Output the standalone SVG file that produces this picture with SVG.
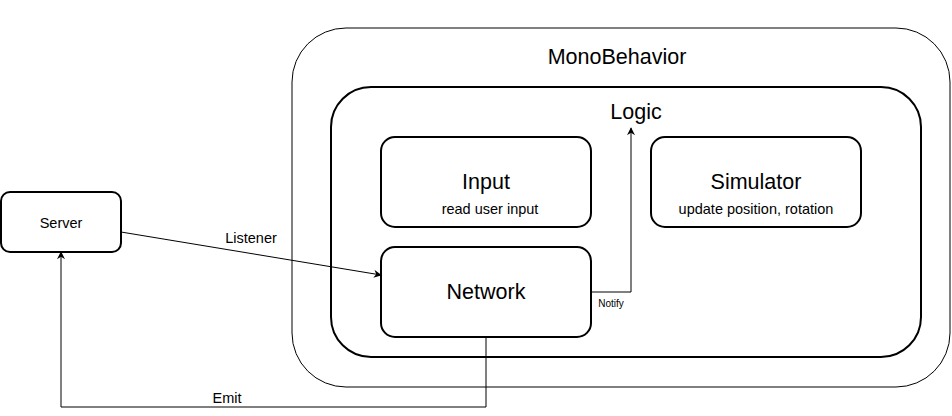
<svg xmlns="http://www.w3.org/2000/svg" width="952" height="416" viewBox="0 0 952 416">
<defs>
<style>
text{font-family:"Liberation Sans",Arial,sans-serif;fill:#000;text-anchor:middle}
.box{fill:#fff;stroke:#000;stroke-width:2}
.line{fill:none;stroke:#000;stroke-width:1}
.big{font-size:21.5px}
.mid{font-size:14.5px}
.sm{font-size:10px}
</style>
<marker id="arr" viewBox="0 0 10 10" refX="9" refY="5" markerWidth="8" markerHeight="8" markerUnits="userSpaceOnUse" orient="auto">
<path d="M0,0 L10,5 L0,10 L3,5 Z" fill="#000"/>
</marker>
</defs>
<rect width="952" height="416" fill="#fff"/>
<g id="monobehavior">
<rect x="292" y="28" width="658" height="359" rx="54" ry="54" fill="#fff" stroke="#000" stroke-width="1"/>
<text class="big" x="617" y="64">MonoBehavior</text>
</g>
<g id="logic">
<rect x="331" y="87" width="590" height="270" rx="40" ry="40" class="box"/>
<text class="big" x="636" y="119">Logic</text>
</g>
<g id="input">
<rect x="381" y="137" width="210" height="90" rx="14" ry="14" class="box"/>
<text class="big" x="486" y="189">Input</text>
<text class="mid" x="490" y="214">read user input</text>
</g>
<g id="simulator">
<rect x="651" y="137" width="210" height="90" rx="14" ry="14" class="box"/>
<text class="big" x="756" y="189">Simulator</text>
<text class="mid" x="756" y="214">update position, rotation</text>
</g>
<g id="network">
<rect x="381" y="247" width="210" height="90" rx="14" ry="14" class="box"/>
<text class="big" x="486" y="299">Network</text>
</g>
<g id="server">
<rect x="1" y="192" width="120" height="60" rx="9" ry="9" class="box"/>
<text class="mid" x="61" y="228">Server</text>
</g>
<g id="connectors">
<path class="line" d="M121,232 L381,275" marker-end="url(#arr)"/>
<text class="mid" x="251" y="243">Listener</text>
<path class="line" d="M591,292 L631,292 L631,128" marker-end="url(#arr)"/>
<text class="sm" x="611" y="307">Notify</text>
<path class="line" d="M486,337 L486,407 L61,407 L61,252" marker-end="url(#arr)"/>
<text class="mid" x="227" y="403">Emit</text>
</g>
</svg>
